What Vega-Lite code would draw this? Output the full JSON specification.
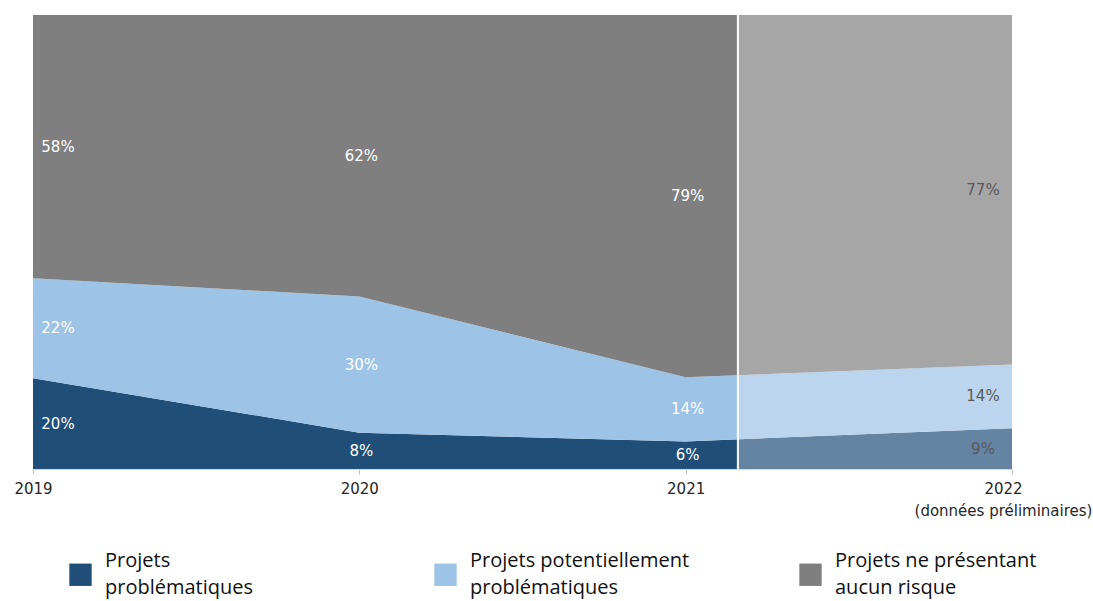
{
  "$schema": "https://vega.github.io/schema/vega-lite/v6.json",
  "width": 979,
  "height": 454,
  "autosize": {"type": "none"},
  "padding": {"left": 33, "top": 15, "right": 81, "bottom": 132},
  "background": "white",
  "config": {
    "view": {"stroke": null},
    "style": {"guide-label": {"lineHeight": 27}}
  },
  "datasets": {
    "parts": [
      {"annee": 2019, "serie": "Projets problématiques", "part": 0.20},
      {"annee": 2019, "serie": "Projets potentiellement problématiques", "part": 0.22},
      {"annee": 2019, "serie": "Projets ne présentant aucun risque", "part": 0.58},
      {"annee": 2020, "serie": "Projets problématiques", "part": 0.08},
      {"annee": 2020, "serie": "Projets potentiellement problématiques", "part": 0.30},
      {"annee": 2020, "serie": "Projets ne présentant aucun risque", "part": 0.62},
      {"annee": 2021, "serie": "Projets problématiques", "part": 0.06},
      {"annee": 2021, "serie": "Projets potentiellement problématiques", "part": 0.14},
      {"annee": 2021, "serie": "Projets ne présentant aucun risque", "part": 0.79},
      {"annee": 2022, "serie": "Projets problématiques", "part": 0.09},
      {"annee": 2022, "serie": "Projets potentiellement problématiques", "part": 0.14},
      {"annee": 2022, "serie": "Projets ne présentant aucun risque", "part": 0.77}
    ],
    "periode": [{"debut": 2021.16, "fin": 2022}]
  },
  "data": {"name": "parts"},
  "layer": [
    {
      "mark": {"type": "area", "interpolate": "linear"},
      "encoding": {
        "x": {
          "field": "annee",
          "type": "quantitative",
          "scale": {"domain": [2019, 2022], "nice": false, "zero": false},
          "axis": {
            "title": null,
            "values": [2019, 2020, 2021, 2022],
            "format": "d",
            "labelExpr": "datum.value == 2022 ? ['2022', '(données préliminaires)'] : datum.label",
            "labelFont": "DejaVu Sans",
            "labelFontSize": 15,
            "labelColor": "#262626",
            "labelPadding": 7,
            "labelLineHeight": 22,
            "labelFlush": false,
            "labelOverlap": false,
            "labelOffset": {"condition": {"test": "datum.value == 2022", "value": -9}, "value": 0},
            "tickSize": 5,
            "tickColor": "#bfbfbf",
            "domainColor": "#d9d9d9",
            "grid": false
          }
        },
        "y": {"field": "part", "type": "quantitative", "stack": "normalize", "axis": null},
        "color": {
          "field": "serie",
          "type": "nominal",
          "scale": {
            "domain": ["Projets problématiques", "Projets potentiellement problématiques", "Projets ne présentant aucun risque"],
            "range": ["#1f4e79", "#9dc3e6", "#7f7f7f"]
          },
          "legend": {
            "title": null,
            "orient": "none",
            "legendX": 36,
            "legendY": 548,
            "direction": "horizontal",
            "columns": 3,
            "gridAlign": "all",
            "columnPadding": 109,
            "padding": 0,
            "symbolType": "square",
            "symbolSize": 500,
            "symbolStrokeWidth": 0,
            "symbolOpacity": 1,
            "labelFont": "Open Sans",
            "labelFontSize": 20,
            "labelColor": "#111111",
            "labelOffset": 13,
            "labelLimit": 400,
            "labelBaseline": "line-bottom",
            "labelExpr": "datum.label == 'Projets problématiques' ? ['Projets', 'problématiques'] : datum.label == 'Projets potentiellement problématiques' ? ['Projets potentiellement', 'problématiques'] : ['Projets ne présentant', 'aucun risque']"
          }
        },
        "order": {"field": "serie", "sort": "descending"}
      }
    },
    {
      "data": {"name": "periode"},
      "mark": {"type": "rect", "color": "white", "opacity": 0.31},
      "encoding": {
        "x": {"field": "debut", "type": "quantitative"},
        "x2": {"field": "fin"}
      }
    },
    {
      "data": {"name": "periode"},
      "mark": {"type": "rule", "color": "white", "strokeWidth": 2},
      "encoding": {
        "x": {"field": "debut", "type": "quantitative"}
      }
    },
    {
      "transform": [{"filter": "datum.annee == 2019"}],
      "mark": {"type": "text", "font": "DejaVu Sans", "fontSize": 15, "color": "#ffffff", "dx": 25},
      "encoding": {
        "x": {"field": "annee", "type": "quantitative"},
        "y": {"field": "part", "type": "quantitative", "stack": "normalize", "bandPosition": 0.5},
        "detail": {"field": "serie"},
        "order": {"field": "serie", "sort": "descending"},
        "text": {"field": "part", "type": "quantitative", "format": ".0%"}
      }
    },
    {
      "transform": [{"filter": "datum.annee == 2020 || datum.annee == 2021"}],
      "mark": {"type": "text", "font": "DejaVu Sans", "fontSize": 15, "color": "#ffffff", "dx": 2},
      "encoding": {
        "x": {"field": "annee", "type": "quantitative"},
        "y": {"field": "part", "type": "quantitative", "stack": "normalize", "bandPosition": 0.5},
        "detail": {"field": "serie"},
        "order": {"field": "serie", "sort": "descending"},
        "text": {"field": "part", "type": "quantitative", "format": ".0%"}
      }
    },
    {
      "transform": [{"filter": "datum.annee == 2022"}],
      "mark": {"type": "text", "font": "DejaVu Sans", "fontSize": 15, "color": "#595959", "dx": -29},
      "encoding": {
        "x": {"field": "annee", "type": "quantitative"},
        "y": {"field": "part", "type": "quantitative", "stack": "normalize", "bandPosition": 0.5},
        "detail": {"field": "serie"},
        "order": {"field": "serie", "sort": "descending"},
        "text": {"field": "part", "type": "quantitative", "format": ".0%"}
      }
    }
  ]
}
